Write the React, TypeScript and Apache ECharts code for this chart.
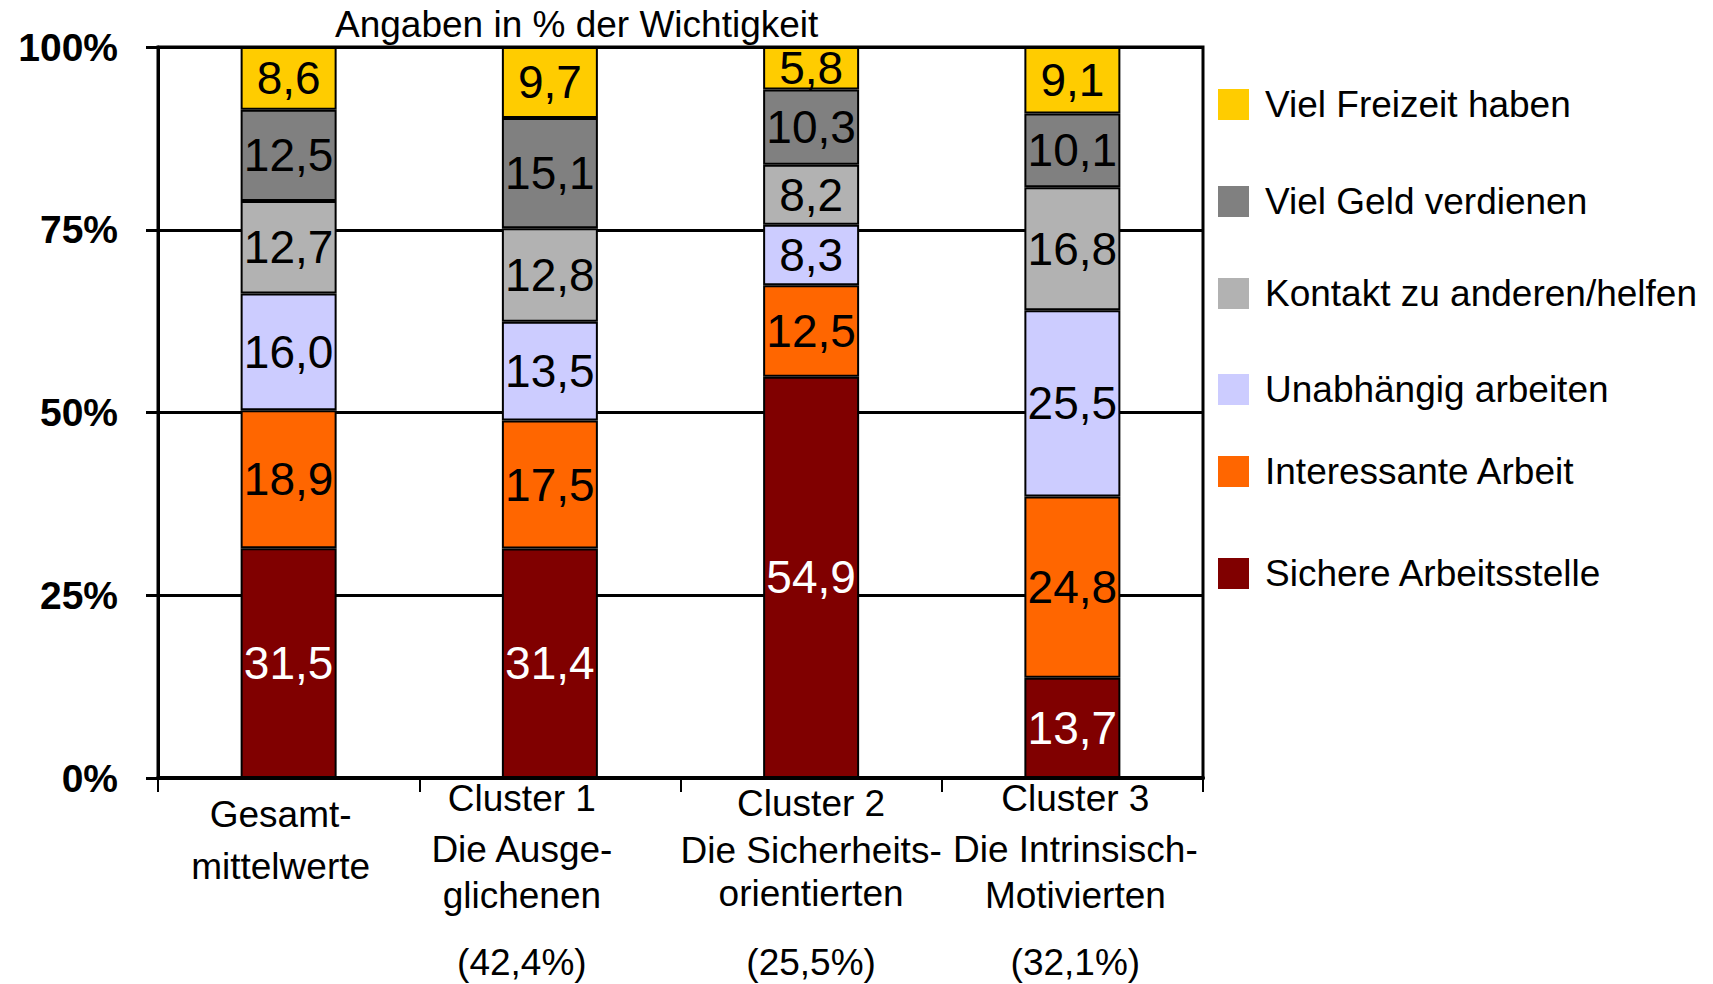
import React, { useEffect, useRef } from "react";
import * as echarts from "echarts";

const FONT = "'Liberation Sans', Arial, sans-serif";

const categories = ["Gesamtmittelwerte", "Cluster 1", "Cluster 2", "Cluster 3"];
const categoryLines = [
  ["Gesamt-", "mittelwerte"],
  ["Cluster 1", "Die Ausge-", "glichenen"],
  ["Cluster 2", "Die Sicherheits-", "orientierten"],
  ["Cluster 3", "Die Intrinsisch-", "Motivierten"],
];
const categoryShares = ["", "(42,4%)", "(25,5%)", "(32,1%)"];

const seriesNames = [
  "Sichere Arbeitsstelle",
  "Interessante Arbeit",
  "Unabhängig arbeiten",
  "Kontakt zu anderen/helfen",
  "Viel Geld verdienen",
  "Viel Freizeit haben",
];
const sichereArbeitsstelle = [31.5, 31.4, 54.9, 13.7];
const interessanteArbeit = [18.9, 17.5, 12.5, 24.8];
const unabhaengigArbeiten = [16.0, 13.5, 8.3, 25.5];
const kontaktHelfen = [12.7, 12.8, 8.2, 16.8];
const vielGeld = [12.5, 15.1, 10.3, 10.1];
const vielFreizeit = [8.6, 9.7, 5.8, 9.1];
const seriesValues = [
  sichereArbeitsstelle,
  interessanteArbeit,
  unabhaengigArbeiten,
  kontaktHelfen,
  vielGeld,
  vielFreizeit,
];
const seriesColors = ["#800000", "#FF6600", "#CCCCFF", "#B2B2B2", "#808080", "#FFCC00"];
const labelColors = ["#ffffff", "#000000", "#000000", "#000000", "#000000", "#000000"];
const yTicks = [0, 25, 50, 75, 100];
const title = "Angaben in % der Wichtigkeit";

// layout: legend centre positions (top to bottom: Freizeit ... Sichere)
const legendCenters = [104, 201, 293, 389, 471, 573];
// layout: per-category line heights of the axis label lines (last = share line)
const labelLineHeights = [
  [88, 16],
  [56, 46, 46, 88],
  [66, 28, 58, 80],
  [56, 46, 46, 88],
];
// layout: horizontal shift (px, negative = left) of each category label
const labelShift = [-8, -28, 0, 3];

export default function App() {
  const ref = useRef<HTMLDivElement>(null);

  useEffect(() => {
    if (!ref.current) return;
    const chart = echarts.init(ref.current, null, { renderer: "svg" });

    const totals = categories.map((_, i) =>
      seriesValues.reduce((s, arr) => s + arr[i], 0)
    );

    const series = seriesNames.map((name, si) => ({
      name,
      type: "bar",
      stack: "total",
      barWidth: 96,
      data: seriesValues[si].map((v, i) => (v / totals[i]) * 100),
      itemStyle: {
        color: seriesColors[si],
        borderColor: "#000",
        borderWidth: 2,
      },
      label: {
        show: true,
        position: "inside",
        color: labelColors[si],
        fontSize: 46,
        fontFamily: FONT,
        formatter: (p: any) =>
          seriesValues[si][p.dataIndex].toFixed(1).replace(".", ","),
      },
    }));

    const legendOrder = [...seriesNames].reverse();
    const legends = legendOrder.map((name, k) => ({
      data: [name],
      left: 1218,
      top: legendCenters[k] - 18,
      padding: 0,
      itemWidth: 31,
      itemHeight: 31,
      icon: "rect",
      itemStyle: { borderWidth: 0 },
      selectedMode: false,
      textStyle: {
        fontSize: 37,
        lineHeight: 36,
        color: "#000",
        fontFamily: FONT,
        padding: [0, 0, 0, 11],
      },
    }));

    const rich: Record<string, any> = {};
    labelLineHeights.forEach((hs, ci) => {
      const s = labelShift[ci];
      const pad = s < 0 ? [0, -2 * s, 0, 0] : [0, 0, 0, 2 * s];
      hs.forEach((h, li) => {
        rich[`c${ci}l${li}`] = {
          fontSize: 37,
          lineHeight: h,
          fontFamily: FONT,
          color: "#000",
          padding: pad,
        };
      });
    });

    chart.setOption({
      animation: false,
      backgroundColor: "#fff",
      title: {
        text: title,
        left: 335,
        top: 6,
        padding: 0,
        textStyle: {
          fontSize: 37,
          fontWeight: "normal",
          color: "#000",
          fontFamily: FONT,
        },
      },
      legend: legends,
      grid: {
        left: 158,
        right: 510,
        top: 47,
        bottom: 206,
        show: true,
        borderColor: "#000",
        borderWidth: 3,
        containLabel: false,
      },
      xAxis: {
        type: "category",
        data: categories,
        axisLine: { show: true, lineStyle: { color: "#000", width: 4 } },
        axisTick: { show: true, length: 14, lineStyle: { color: "#000", width: 2 } },
        axisLabel: {
          interval: 0,
          margin: -8,
          color: "#000",
          fontFamily: FONT,
          fontSize: 37,
          formatter: (_v: string, idx: number) => {
            const lines = [...categoryLines[idx]];
            if (categoryShares[idx]) lines.push(categoryShares[idx]);
            return lines.map((l, li) => `{c${idx}l${li}|${l}}`).join("\n");
          },
          rich,
        },
      },
      yAxis: {
        type: "value",
        min: yTicks[0],
        max: yTicks[yTicks.length - 1],
        interval: 25,
        axisLine: { show: true, lineStyle: { color: "#000", width: 3 } },
        axisTick: { show: true, length: 12, lineStyle: { color: "#000", width: 3 } },
        splitLine: { show: true, lineStyle: { color: "#000", width: 3 } },
        axisLabel: {
          margin: 40,
          color: "#000",
          fontSize: 39,
          fontWeight: "bold",
          fontFamily: FONT,
          formatter: (v: number) => `${v}%`,
        },
      },
      series,
    });

    return () => chart.dispose();
  }, []);

  return (
    <div
      ref={ref}
      style={{ position: "fixed", left: 0, top: 0, width: 1713, height: 984, background: "#fff" }}
    />
  );
}
